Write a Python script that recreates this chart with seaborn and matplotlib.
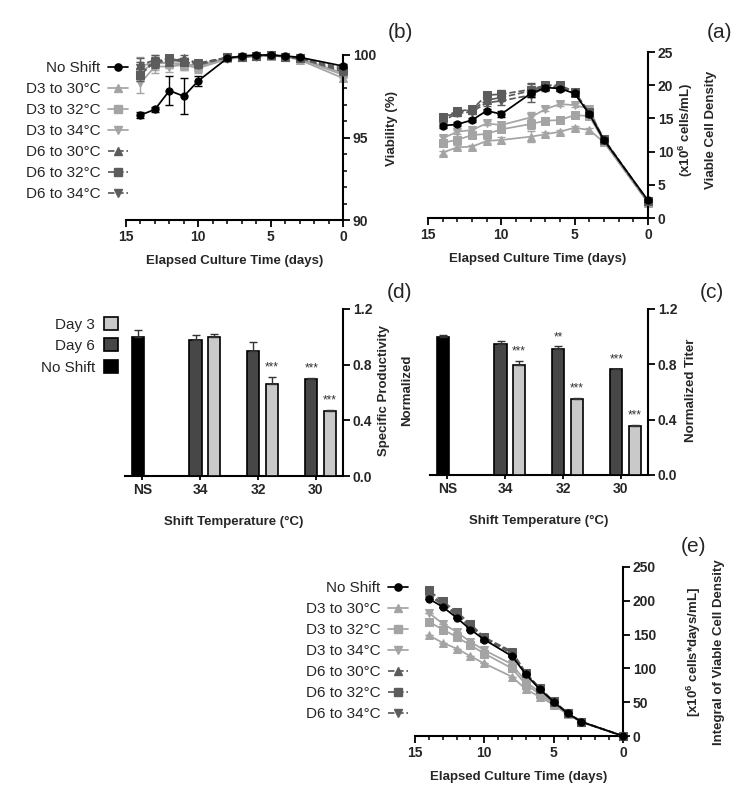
import numpy as np
import pandas as pd
import matplotlib
matplotlib.use("Agg")
import matplotlib.pyplot as plt
import seaborn as sns
from matplotlib.ticker import MultipleLocator, FormatStrFormatter
from matplotlib.lines import Line2D
from matplotlib.patches import Patch

# ---------------- data ----------------
days = [0, 3, 4, 5, 6, 7, 8, 10, 11, 12, 13, 14]
series_names = ["No Shift", "D3 to 30°C", "D3 to 32°C", "D3 to 34°C",
                "D6 to 30°C", "D6 to 32°C", "D6 to 34°C"]

# viable cell density (x10^6 cells/mL)
vcd_no_shift = [2.65, 11.75, 15.65, 18.75, 19.5, 19.65, 18.75, 15.65, 16.15, 14.75, 14.1, 13.9]
vcd_d3_30 = [2.3, 11.4, 13.25, 13.6, 13.0, 12.6, 12.25, 11.75, 11.6, 10.75, 10.65, 9.85]
vcd_d3_32 = [2.4, 11.5, 15.35, 15.5, 14.75, 14.65, 14.15, 13.35, 12.65, 12.5, 11.75, 11.35]
vcd_d3_34 = [2.4, 11.6, 16.45, 17.0, 17.15, 16.4, 15.15, 14.0, 14.25, 13.25, 13.0, 12.0]
vcd_d6_30 = [2.5, 11.8, 15.8, 18.9, 19.8, 19.85, 19.15, 18.15, 17.75, 16.25, 16.0, 15.0]
vcd_d6_32 = [2.5, 11.9, 15.9, 19.0, 20.0, 20.0, 19.35, 18.65, 18.5, 16.35, 16.1, 15.15]
vcd_d6_34 = [2.5, 11.7, 15.7, 18.8, 19.7, 19.65, 18.5, 17.65, 17.35, 16.0, 15.75, 14.65]
vcd_err_no_shift = [0.2, 0.3, 0.3, 0.4, 0.3, 0.4, 0.5, 0.4, 0.3, 0.3, 0.3, 0.3]
vcd_err_d3 = [0.2, 0.3, 0.3, 0.3, 0.3, 0.3, 0.8, 0.4, 0.3, 0.3, 0.3, 0.3]
vcd_err_d6 = [0.2, 0.3, 0.3, 0.4, 0.4, 0.5, 1.0, 0.6, 0.5, 0.4, 0.4, 0.4]

# viability (%)
via_no_shift = [99.33, 99.86, 99.94, 100.0, 100.0, 99.94, 99.8, 98.44, 97.5, 97.84, 96.7, 96.36]
via_d3_30 = [98.6, 99.7, 99.9, 100.0, 99.95, 99.9, 99.8, 99.3, 99.5, 99.5, 99.6, 99.3]
via_d3_32 = [98.9, 99.8, 99.9, 99.95, 99.95, 99.9, 99.8, 99.4, 99.4, 99.5, 99.5, 99.0]
via_d3_34 = [98.8, 99.75, 99.9, 99.95, 99.9, 99.85, 99.75, 99.2, 99.4, 99.3, 99.3, 98.3]
via_d6_30 = [99.2, 99.8, 99.9, 100.0, 99.95, 99.9, 99.85, 99.5, 99.8, 99.6, 99.7, 99.4]
via_d6_32 = [99.1, 99.8, 99.9, 100.0, 99.95, 99.9, 99.85, 99.5, 99.6, 99.8, 99.6, 98.8]
via_d6_34 = [99.0, 99.8, 99.9, 100.0, 99.95, 99.9, 99.85, 99.4, 99.6, 99.7, 99.5, 99.2]
via_err_no_shift = [0.1, 0.05, 0.05, 0.05, 0.05, 0.05, 0.1, 0.3, 1.1, 0.9, 0.15, 0.2]
via_err_d3 = [0.2, 0.05, 0.05, 0.05, 0.05, 0.05, 0.1, 0.3, 0.3, 0.3, 0.4, 0.6]
via_err_d6 = [0.2, 0.05, 0.05, 0.05, 0.05, 0.05, 0.1, 0.2, 0.2, 0.2, 0.3, 0.4]

# integral of viable cell density (x10^6 cells*days/mL)
ivcd_no_shift = [0, 21, 33.5, 50.5, 69, 91, 118, 142.5, 157.5, 175, 191, 203]
ivcd_d3_30 = [0, 20.5, 32, 46, 58, 69, 87.6, 107.3, 118, 129.4, 137.8, 149]
ivcd_d3_32 = [0, 20.7, 33, 47.5, 62, 76, 100, 122, 134.3, 146.7, 157.5, 169]
ivcd_d3_34 = [0, 20.8, 33.5, 49, 65, 80, 106, 127, 139.3, 154, 166.3, 182]
ivcd_d6_30 = [0, 21, 34, 51, 70, 92.5, 123, 145, 163, 181, 196, 211]
ivcd_d6_32 = [0, 21.2, 34.5, 51.5, 71, 93, 125, 146, 165.5, 184, 199, 215.5]
ivcd_d6_34 = [0, 21, 33.8, 51, 70, 92, 122, 144, 161, 179, 194, 208]

# bar panels
temp_labels = ["30", "32", "34", "NS"]
titer_day6 = [0.764, 0.909, 0.947]
titer_day6_err = [0.005, 0.02, 0.02]
titer_day3 = [0.357, 0.55, 0.795]
titer_day3_err = [0.005, 0.01, 0.03]
titer_ns = [1.0]
titer_ns_err = [0.01]
titer_day6_sig = ["***", "**", ""]
titer_day3_sig = ["***", "***", "***"]

qp_day6 = [0.70, 0.90, 0.98]
qp_day6_err = [0.005, 0.065, 0.03]
qp_day3 = [0.465, 0.66, 1.0]
qp_day3_err = [0.01, 0.05, 0.02]
qp_ns = [1.0]
qp_ns_err = [0.05]
qp_day6_sig = ["***", "", ""]
qp_day3_sig = ["***", "***", ""]

# ---------------- style ----------------
sns.set_theme(style="ticks")
plt.rcParams["font.family"] = ["Liberation Sans", "DejaVu Sans"]
plt.rcParams["mathtext.fontset"] = "custom"
plt.rcParams["mathtext.rm"] = "Liberation Sans:bold"
plt.rcParams["mathtext.it"] = "Liberation Sans:bold"
plt.rcParams["mathtext.bf"] = "Liberation Sans:bold"
plt.rcParams["mathtext.default"] = "rm"

W, H = 753, 806
fig = plt.figure(figsize=(W / 100, H / 100), dpi=100)


def rect(l, t, r, b):
    return [l / W, 1 - b / H, (r - l) / W, (b - t) / H]


C_NS = "black"
C_D3 = "#a4a4a4"
C_D6 = "#5c5c5c"
MS = 5.2
LW = 1.25
styles = {
    "No Shift": dict(color=C_NS, marker="o", ls="-"),
    "D3 to 30°C": dict(color=C_D3, marker="^", ls="-"),
    "D3 to 32°C": dict(color=C_D3, marker="s", ls="-"),
    "D3 to 34°C": dict(color=C_D3, marker="v", ls="-"),
    "D6 to 30°C": dict(color=C_D6, marker="^", ls="--"),
    "D6 to 32°C": dict(color=C_D6, marker="s", ls="--"),
    "D6 to 34°C": dict(color=C_D6, marker="v", ls="--"),
}
draw_order = ["D3 to 30°C", "D3 to 32°C", "D3 to 34°C",
              "D6 to 30°C", "D6 to 32°C", "D6 to 34°C", "No Shift"]


def style_axes(ax):
    sns.despine(ax=ax, left=True, top=True, right=False, bottom=False)
    for s in ("right", "bottom"):
        ax.spines[s].set_linewidth(1.5)
        ax.spines[s].set_color("black")
    ax.yaxis.tick_right()
    ax.tick_params(axis="both", which="major", direction="out", length=5,
                   width=1.3, labelsize=10, color="black", pad=2)
    ax.tick_params(axis="both", which="minor", direction="out", length=3,
                   width=1.1, color="black")
    ax.set_facecolor("none")
    ax.grid(False)


def bold_ticks(ax):
    for lbl in ax.get_xticklabels() + ax.get_yticklabels():
        lbl.set_fontweight("bold")


def time_panel(ax, data, errs, ylim, yticks, yminor=None):
    for name in draw_order:
        st = styles[name]
        vals = data[name]
        err = errs[name]
        z = 5 if name == "No Shift" else (3 if name.startswith("D6") else 2)
        ax.errorbar(days, vals, yerr=err, fmt="none", ecolor=st["color"],
                    elinewidth=1.0, capsize=3, capthick=1.0, clip_on=False, zorder=z)
        sns.lineplot(x=days, y=vals, ax=ax, color=st["color"], marker=st["marker"],
                     linestyle=st["ls"], linewidth=LW, markersize=MS,
                     markeredgecolor=st["color"], errorbar=None, legend=False,
                     clip_on=False, zorder=z + 0.5)
    ax.set_xlim(15, 0)
    ax.set_ylim(*ylim)
    ax.set_xticks([0, 5, 10, 15])
    ax.xaxis.set_minor_locator(MultipleLocator(1))
    ax.set_yticks(yticks)
    if yminor:
        ax.yaxis.set_minor_locator(MultipleLocator(yminor))
    ax.set_xlabel("Elapsed Culture Time (days)", fontweight="bold", fontsize=9.5, labelpad=8)
    ax.set_ylabel("")
    style_axes(ax)
    bold_ticks(ax)


def line_legend(x_right, y_top):
    handles = []
    for name in series_names:
        st = styles[name]
        handles.append(Line2D([], [], color=st["color"], marker=st["marker"],
                              linestyle=st["ls"], linewidth=LW, markersize=MS))
    fig.legend(handles, series_names, loc="upper right",
               bbox_to_anchor=(x_right / W, 1 - y_top / H), frameon=False,
               markerfirst=False, handlelength=1.3, handletextpad=0.5,
               fontsize=11, labelspacing=0.46, borderpad=0, borderaxespad=0)


# ---------------- (a) VCD ----------------
axa = fig.add_axes(rect(428, 52, 648, 218))
time_panel(axa,
           {"No Shift": vcd_no_shift, "D3 to 30°C": vcd_d3_30, "D3 to 32°C": vcd_d3_32,
            "D3 to 34°C": vcd_d3_34, "D6 to 30°C": vcd_d6_30, "D6 to 32°C": vcd_d6_32,
            "D6 to 34°C": vcd_d6_34},
           {"No Shift": vcd_err_no_shift, "D3 to 30°C": vcd_err_d3, "D3 to 32°C": vcd_err_d3,
            "D3 to 34°C": vcd_err_d3, "D6 to 30°C": vcd_err_d6, "D6 to 32°C": vcd_err_d6,
            "D6 to 34°C": vcd_err_d6},
           (0, 25), [0, 5, 10, 15, 20, 25])

# ---------------- (b) viability ----------------
axb = fig.add_axes(rect(126, 55, 343, 220))
time_panel(axb,
           {"No Shift": via_no_shift, "D3 to 30°C": via_d3_30, "D3 to 32°C": via_d3_32,
            "D3 to 34°C": via_d3_34, "D6 to 30°C": via_d6_30, "D6 to 32°C": via_d6_32,
            "D6 to 34°C": via_d6_34},
           {"No Shift": via_err_no_shift, "D3 to 30°C": via_err_d3, "D3 to 32°C": via_err_d3,
            "D3 to 34°C": via_err_d3, "D6 to 30°C": via_err_d6, "D6 to 32°C": via_err_d6,
            "D6 to 34°C": via_err_d6},
           (90, 100), [90, 95, 100], yminor=1)
line_legend(128, 61)

# ---------------- (e) IVCD ----------------
axe = fig.add_axes(rect(415, 567, 623, 736))
time_panel(axe,
           {"No Shift": ivcd_no_shift, "D3 to 30°C": ivcd_d3_30, "D3 to 32°C": ivcd_d3_32,
            "D3 to 34°C": ivcd_d3_34, "D6 to 30°C": ivcd_d6_30, "D6 to 32°C": ivcd_d6_32,
            "D6 to 34°C": ivcd_d6_34},
           {k: [0] * len(days) for k in series_names},
           (0, 250), [0, 50, 100, 150, 200, 250])
line_legend(408, 581)

# ---------------- bar panels ----------------
C_DAY6 = "#474747"
C_DAY3 = "#c9c9c9"
BW = 0.21
OFF6 = 0.08
OFF3 = -0.24


def bar_panel(ax, d6, d6e, d3, d3e, ns, nse, sig6, sig3):
    pos = np.arange(len(d6))
    ax.bar(pos + OFF6, d6, width=BW, color=C_DAY6, edgecolor="black", linewidth=1.2,
           yerr=[np.zeros(len(d6)), d6e], capsize=3,
           error_kw=dict(elinewidth=1.0, capthick=1.0, ecolor="#333333"), zorder=3)
    ax.bar(pos + OFF3, d3, width=BW, color=C_DAY3, edgecolor="black", linewidth=1.2,
           yerr=[np.zeros(len(d3)), d3e], capsize=3,
           error_kw=dict(elinewidth=1.0, capthick=1.0, ecolor="#333333"), zorder=3)
    ax.bar([len(d6) + OFF6], ns, width=BW, color="black", edgecolor="black", linewidth=1.2,
           yerr=[[0], nse], capsize=3,
           error_kw=dict(elinewidth=1.0, capthick=1.0, ecolor="#333333"), zorder=3)
    for p, v, e, s in zip(pos, d6, d6e, sig6):
        if s:
            ax.text(p + OFF6, v + e + 0.025, s, ha="center", va="bottom", fontsize=8.5,
                    color="#333333")
    for p, v, e, s in zip(pos, d3, d3e, sig3):
        if s:
            ax.text(p + OFF3, v + e + 0.025, s, ha="center", va="bottom", fontsize=8.5,
                    color="#333333")
    ax.set_xlim(3.3, -0.47)
    ax.set_ylim(0, 1.2)
    ax.set_xticks(range(len(temp_labels)))
    ax.set_xticklabels(temp_labels)
    ax.set_yticks([0.0, 0.4, 0.8, 1.2])
    ax.yaxis.set_major_formatter(FormatStrFormatter("%.1f"))
    ax.set_xlabel("Shift Temperature (°C)", fontweight="bold", fontsize=9.5, labelpad=14)
    style_axes(ax)
    ax.tick_params(axis="x", which="major", length=3)
    bold_ticks(ax)


axc = fig.add_axes(rect(430, 309, 648, 475))
bar_panel(axc, titer_day6, titer_day6_err, titer_day3, titer_day3_err, titer_ns, titer_ns_err,
          titer_day6_sig, titer_day3_sig)

axd = fig.add_axes(rect(125, 309, 343, 476))
bar_panel(axd, qp_day6, qp_day6_err, qp_day3, qp_day3_err, qp_ns, qp_ns_err,
          qp_day6_sig, qp_day3_sig)

bar_handles = [Patch(facecolor=C_DAY3, edgecolor="black", linewidth=1.2),
               Patch(facecolor=C_DAY6, edgecolor="black", linewidth=1.2),
               Patch(facecolor="black", edgecolor="black", linewidth=1.2)]
fig.legend(bar_handles, ["Day 3", "Day 6", "No Shift"], loc="upper right",
           bbox_to_anchor=(118 / W, 1 - 317 / H), frameon=False, markerfirst=False,
           handlelength=0.9, handleheight=0.9, handletextpad=0.6, fontsize=11,
           labelspacing=0.45, borderpad=0, borderaxespad=0)

# ---------------- y labels (right side) ----------------
def ylab(x, y, s):
    fig.text(x / W, 1 - y / H, s, rotation=90, ha="center", va="center",
             fontsize=9.5, fontweight="bold")


ylab(686, 130, r"(x10$^{6}$ cells/mL)")
ylab(711, 130, "Viable Cell Density")
ylab(392, 128, "Viability (%)")
ylab(691, 390, "Normalized Titer")
ylab(384, 390, "Specific Productivity")
ylab(407, 390, "Normalized")
ylab(694, 652, r"[x10$^{6}$ cells*days/mL]")
ylab(719, 652, "Integral of Viable Cell Density")

# ---------------- panel labels ----------------
for x, y, s in [(720, 33, "(a)"), (400, 33, "(b)"), (712, 293, "(c)"),
                (400, 292, "(d)"), (694, 547, "(e)")]:
    fig.text(x / W, 1 - y / H, s, ha="center", va="center", fontsize=15)

fig.savefig("out.png", dpi=100)
